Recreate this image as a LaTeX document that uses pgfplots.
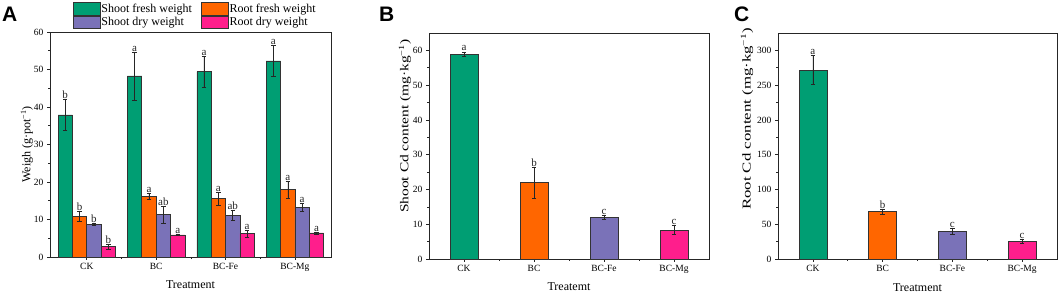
\documentclass[border=0pt]{standalone}
\usepackage{pgfplots}
\pgfplotsset{compat=1.18}
\usepackage{fontspec}
\setmainfont{Liberation Serif}
\newfontfamily\sansbold{Liberation Sans}[BoldFont={Liberation Sans Bold}]
\definecolor{cg}{RGB}{0,158,115}
\definecolor{co}{RGB}{255,102,0}
\definecolor{cp}{RGB}{122,114,184}
\definecolor{ck}{RGB}{255,30,140}
\pgfplotsset{
  common/.style={
    scale only axis,
    axis line style={black!85, line width=0.7pt},
    tick align=outside,
    xtick pos=bottom, ytick pos=left,
    major tick length=3pt, minor tick length=1.6pt,
    tick style={black!85, line width=0.6pt},
    ticklabel style={font=\fontsize{9.5}{10}\selectfont},
    label style={font=\fontsize{12}{13}\selectfont},
    /pgf/number format/assume math mode=true,
    xtick={1,2,3,4}, xticklabels={CK,BC,BC-Fe,BC-Mg},
    minor xtick={1.5,2.5,3.5},
    ymin=0, minor y tick num=1,
    clip=false,
  },
  bars/.style={ybar, bar shift=0pt, draw=black!80, line width=0.6pt, fill=#1,
    error bars/y dir=both, error bars/y explicit,
    error bars/error bar style={black!85, line width=0.45pt},
    error bars/error mark options={rotate=90, mark size=2.2pt, line width=0.45pt, black!85}},
  letters/.style={only marks, mark=o, mark size=0pt, mark options={draw=none},
    forget plot, nodes near coords, point meta=explicit symbolic,
    every node near coord/.append style={font=\fontsize{11}{11}\selectfont, anchor=south, inner sep=0.5pt, text=black!85}},
}
\begin{document}
\begin{tikzpicture}
\useasboundingbox (0pt,0pt) rectangle (1059pt,294pt);
\node[anchor=base west, inner sep=0, font=\sansbold\bfseries\fontsize{21}{21}\selectfont] at (2pt,272pt) {A};
\node[anchor=base west, inner sep=0, font=\sansbold\bfseries\fontsize{21}{21}\selectfont] at (379pt,272pt) {B};
\node[anchor=base west, inner sep=0, font=\sansbold\bfseries\fontsize{21}{21}\selectfont] at (734pt,272pt) {C};

% Panel A
\begin{axis}[common, at={(50pt,37pt)}, anchor=south west, width=281pt, height=225pt,
  xmin=0.47, xmax=4.52, ymax=60, ytick={0,10,...,60},
  xlabel={Treatment}, ylabel={Weigh (g·pot\textsuperscript{−1})},
  xlabel style={at={(axis description cs:0.5,-0.124)}, anchor=center},
  ylabel style={at={(axis description cs:-0.082,0.5)}, anchor=center},
  legend style={at={(axis description cs:0.515,1)}, anchor=south, yshift=1pt, draw=none, fill=none,
    font=\fontsize{12}{12.5}\selectfont, /tikz/every even column/.append style={column sep=8pt},
    nodes={inner sep=1pt}, row sep=0.5pt},
  legend columns=2, legend cell align=left,
  legend image code/.code={\draw[#1] (0pt,-6.2pt) rectangle (27pt,6.2pt);},
]
\addplot[bars=cg, bar width=0.207] coordinates {
  (0.6895,37.9) +- (0,4.2) (1.6895,48.3) +- (0,6.4) (2.6895,49.4) +- (0,4.1) (3.6895,52.3) +- (0,4.2)};
\addlegendentry{Shoot fresh weight}
\addplot[bars=co, bar width=0.207] coordinates {
  (0.8965,10.9) +- (0,1.3) (1.8965,16.2) +- (0,0.9) (2.8965,15.6) +- (0,1.7) (3.8965,18.0) +- (0,2.2)};
\addlegendentry{Root fresh weight}
\addplot[bars=cp, bar width=0.207] coordinates {
  (1.1035,8.7) +- (0,0.3) (2.1035,11.3) +- (0,2.2) (3.1035,11.1) +- (0,1.3) (4.1035,13.3) +- (0,1.0)};
\addlegendentry{Shoot dry weight}
\addplot[bars=ck, bar width=0.207] coordinates {
  (1.3105,2.8) +- (0,0.6) (2.3105,5.9) +- (0,0.2) (3.3105,6.2) +- (0,0.9) (4.3105,6.4) +- (0,0.3)};
\addlegendentry{Root dry weight}
\addplot[letters] coordinates {
  (0.6895,42.1) [b] (1.6895,54.7) [a] (2.6895,53.5) [a] (3.6895,56.5) [a]
  (0.8965,12.2) [b] (1.8965,17.1) [a] (2.8965,17.3) [a] (3.8965,20.2) [a]
  (1.1035,9.0) [b] (2.1035,13.5) [ab] (3.1035,12.4) [ab] (4.1035,14.3) [a]
  (1.3105,3.4) [b] (2.3105,6.1) [a] (3.3105,7.1) [a] (4.3105,6.7) [a]};
\end{axis}

% Panel B
\begin{axis}[common, at={(429pt,35pt)}, anchor=south west, width=280pt, height=226pt,
  xmin=0.5, xmax=4.5, ymax=65, ytick={0,10,...,60},
  xlabel={Treatemt}, ylabel={\scalebox{1.29}[1]{Shoot Cd content (mg·kg\textsuperscript{−1})}},
  xlabel style={at={(axis description cs:0.5,-0.124)}, anchor=center},
  ylabel style={at={(axis description cs:-0.086,0.588)}, anchor=center},
]
\addplot[bars=cg, bar width=0.4] coordinates {(1,58.9) +- (0,0.7)};
\addplot[bars=co, bar width=0.4] coordinates {(2,22.0) +- (0,4.4)};
\addplot[bars=cp, bar width=0.4] coordinates {(3,11.9) +- (0,0.6)};
\addplot[bars=ck, bar width=0.4] coordinates {(4,8.3) +- (0,1.3)};
\addplot[letters] coordinates {(1,59.6) [a] (2,26.4) [b] (3,12.5) [c] (4,9.6) [c]};
\end{axis}

% Panel C
\begin{axis}[common, at={(778pt,35pt)}, anchor=south west, width=279pt, height=226pt,
  xmin=0.5, xmax=4.5, ymax=325, ytick={0,50,...,300},
  xlabel={Treatment}, ylabel={\scalebox{1.4}[1]{Root Cd content (mg·kg\textsuperscript{−1})}},
  xlabel style={at={(axis description cs:0.5,-0.128)}, anchor=center},
  ylabel style={at={(axis description cs:-0.111,0.62)}, anchor=center},
]
\addplot[bars=cg, bar width=0.4] coordinates {(1,272) +- (0,21)};
\addplot[bars=co, bar width=0.4] coordinates {(2,68) +- (0,3)};
\addplot[bars=cp, bar width=0.4] coordinates {(3,40) +- (0,4.5)};
\addplot[bars=ck, bar width=0.4] coordinates {(4,26) +- (0,3)};
\addplot[letters] coordinates {(1,293) [a] (2,71) [b] (3,44.5) [c] (4,29) [c]};
\end{axis}
\end{tikzpicture}
\end{document}
